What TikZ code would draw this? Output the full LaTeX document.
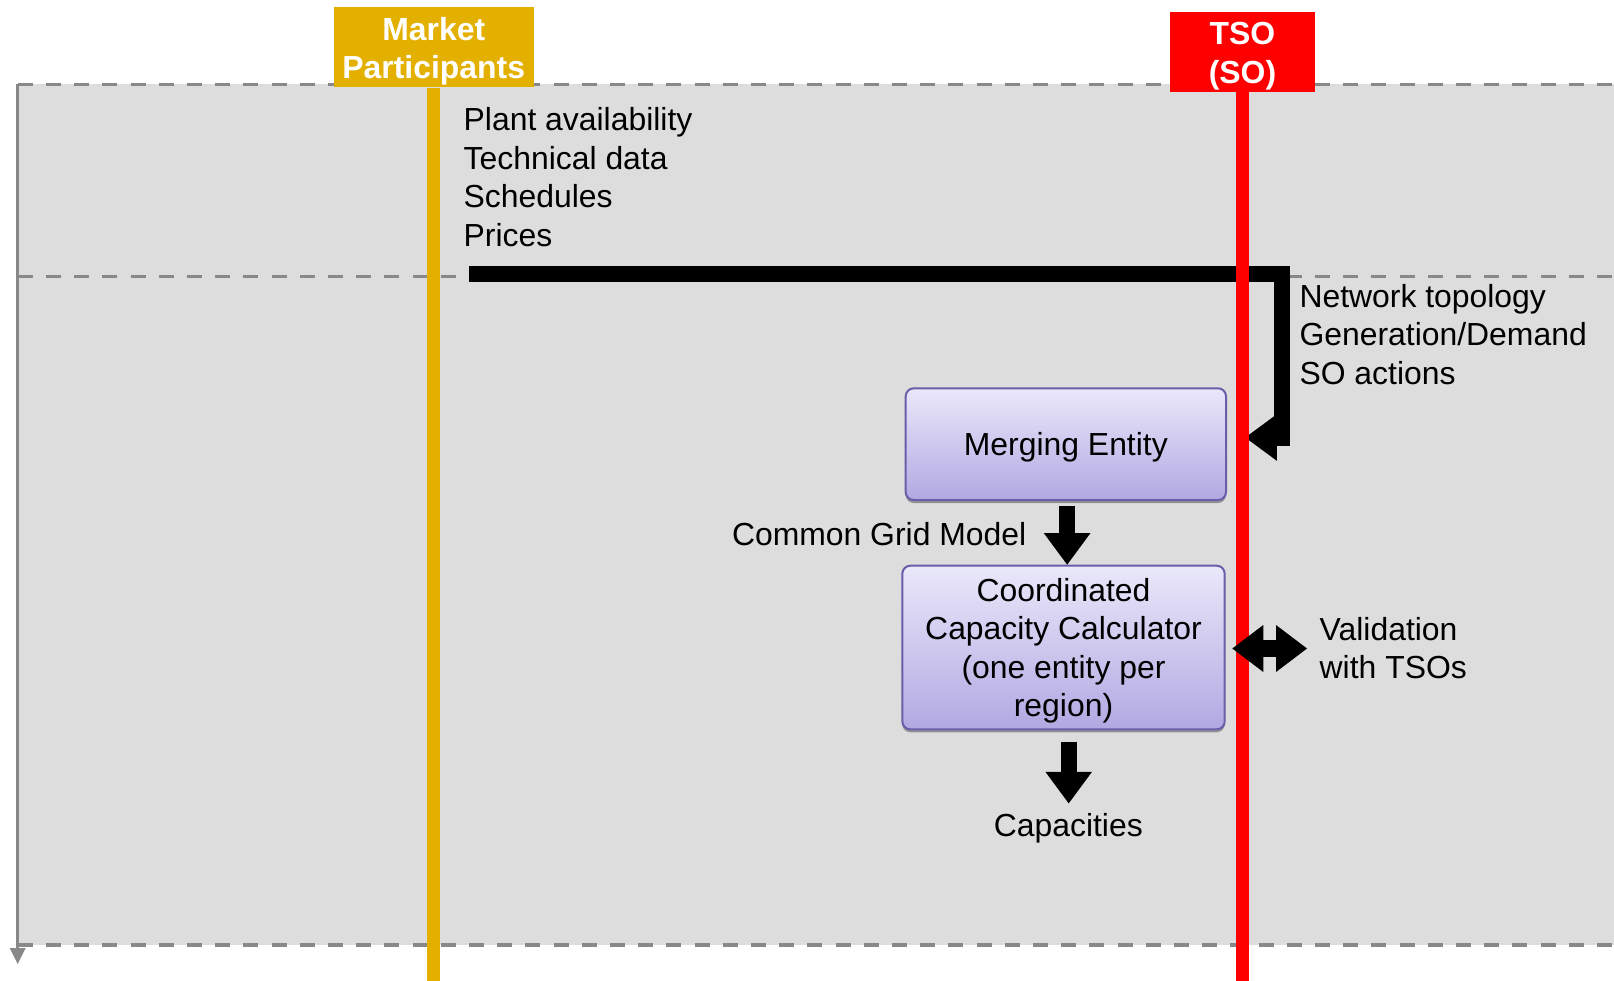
\documentclass[tikz,border=0pt]{standalone}
\usepackage{fontspec}
\setmainfont{Liberation Sans}
\usetikzlibrary{arrows.meta,shadows,calc}
\definecolor{bggray}{RGB}{221,221,221}
\definecolor{dashgray}{RGB}{136,136,136}
\definecolor{mpgold}{RGB}{227,176,0}
\definecolor{tsored}{RGB}{255,0,0}
\definecolor{boxedge}{RGB}{104,94,170}
\definecolor{boxtop}{RGB}{234,232,250}
\definecolor{boxbot}{RGB}{178,168,226}
\newcommand{\diagfont}{\fontsize{31.9}{38.5}\selectfont}
\begin{document}
\begin{tikzpicture}[x=1pt,y=-1pt,
  hdr/.style={rectangle, inner sep=0pt, text=white, font=\diagfont\bfseries, text height=27pt, text depth=40.7pt},
  lifeline/.style={line width=13.3pt},
  sepline/.style={dashgray, line width=3.5pt, dash pattern=on 15pt off 13.2pt},
  axisline/.style={dashgray, line width=3pt, -{Triangle[length=16pt,width=16pt,line width=0pt]}},
  bigarrow/.style={line width=16pt, line join=miter, -{Triangle[length=31.5pt,width=46.5pt,line width=0pt]}},
  bigdbl/.style={line width=16.5pt, {Triangle[length=31pt,width=47pt,line width=0pt]}-{Triangle[length=31pt,width=47pt,line width=0pt]}},
  procbox/.style={rectangle, rounded corners=8pt, draw=boxedge, line width=2pt, top color=boxtop, bottom color=boxbot, inner sep=0pt, font=\diagfont, drop shadow={shadow xshift=0pt, shadow yshift=-3pt, fill=black!55, opacity=0.7}},
  lbl/.style={inner sep=0pt, font=\diagfont}
]
\useasboundingbox (0,0) rectangle (1614,980);
% background band and separators
\fill[bggray] (17.7,84.4) rectangle (1614,945);
\draw[sepline] (17.7,84.4) -- (1614,84.4);
\draw[sepline] (17.7,276.7) -- (1614,276.7);
\draw[sepline] (17.7,945) -- (1614,945);
\draw[axisline] (17.7,84.4) -- (17.7,964);

% headers
\node[hdr, fill=mpgold, minimum width=200.5pt, minimum height=80.6pt] (mp) at (433.75,47) {\begin{tabular}[t]{@{}c@{}}Market\\Participants\end{tabular}};
\node[hdr, fill=tsored, minimum width=144.4pt, minimum height=80pt] (tso) at (1242.5,51.7) {\begin{tabular}[t]{@{}c@{}}TSO\\(SO)\end{tabular}};

% labels
\node[lbl, anchor=base west] (mpdata) at (463.5,130.7) {\begin{tabular}[t]{@{}l@{}}Plant availability\\Technical data\\Schedules\\Prices\end{tabular}};
\node[lbl, anchor=base west] (tsodata) at (1299.3,307) {\begin{tabular}[t]{@{}l@{}}Network topology\\Generation/Demand\\SO actions\end{tabular}};
\node[lbl, anchor=base west] (cgm) at (731.8,545) {Common Grid Model};
\node[lbl, anchor=base] (cap) at (1068.3,836.7) {Capacities};
\node[lbl, anchor=base west] (val) at (1319.5,640) {\begin{tabular}[t]{@{}l@{}}Validation\\with TSOs\end{tabular}};

% data flow to TSO
\coordinate (mpout) at (469,274);
\coordinate (tsoin) at (1245.3,437.5);
\draw[bigarrow] (mpout) -| ([xshift=36.4pt]tsoin) -- (tsoin);

% lifelines
\draw[lifeline, mpgold] (mp.south) -- ++(0,894);
\draw[lifeline, tsored] (tso.south) -- ++(0,890);

% process boxes
\node[procbox, minimum width=320.3pt, minimum height=111.7pt, text height=24pt, text depth=1pt] (me) at (1065.85,444.15) {Merging Entity};
\node[procbox, minimum width=322.4pt, minimum height=163.6pt, text height=27pt, text depth=120pt] (ccc) at (1063.5,647.5) {\begin{tabular}[t]{@{}c@{}}Coordinated\\Capacity Calculator\\(one entity per\\region)\end{tabular}};

% arrows between boxes
\draw[bigarrow] ([shift={(1.3pt,-4.7pt)}]me.south) -- ($(me.south |- ccc.north)+(1.3pt,0pt)$);
\draw[bigarrow] ([shift={(5.2pt,-11.4pt)}]ccc.south) -- ([shift={(0.4pt,10pt)}]cap.north);

% validation
\coordinate (valL) at (1232.3,648.5);
\draw[bigdbl] (valL) -- ($(valL -| val.west)+(-12.5pt,0pt)$);
\end{tikzpicture}
\end{document}
